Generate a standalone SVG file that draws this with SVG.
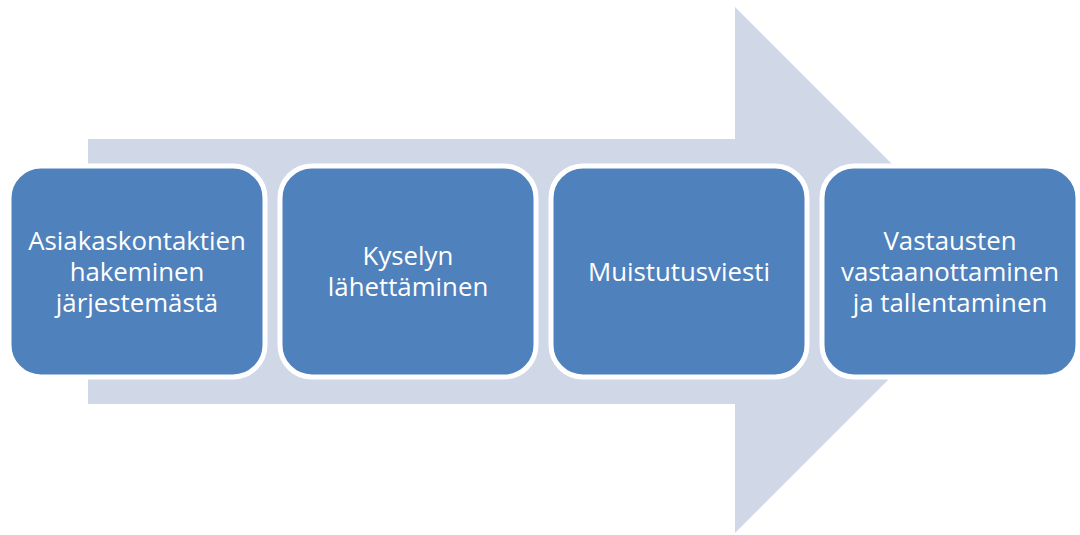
<svg xmlns="http://www.w3.org/2000/svg" width="1080" height="535" viewBox="0 0 1080 535">
  <style>
    .step rect { fill: #4F81BD; stroke: #FFFFFF; stroke-width: 5; }
    .step text { fill: #FFFFFF; font-family: "Open Sans", "Liberation Sans", sans-serif; font-size: 25.8px; text-anchor: middle; }
  </style>
  <!-- background process arrow -->
  <g id="arrow">
    <polygon points="88,139 735,139 735,7 998,270 735,533 735,404 88,404" fill="#D0D8E8"/>
  </g>
  <g id="step1" class="step">
    <rect x="9" y="166" width="256" height="211" rx="32"/>
    <text x="137" y="250">Asiakaskontaktien</text>
    <text x="137" y="281">hakeminen</text>
    <text x="137" y="312">järjestemästä</text>
  </g>
  <g id="step2" class="step">
    <rect x="280" y="166" width="256" height="211" rx="32"/>
    <text x="408" y="265">Kyselyn</text>
    <text x="408" y="296">lähettäminen</text>
  </g>
  <g id="step3" class="step">
    <rect x="551" y="166" width="256" height="211" rx="32"/>
    <text x="679" y="281">Muistutusviesti</text>
  </g>
  <g id="step4" class="step">
    <rect x="822" y="166" width="256" height="211" rx="32"/>
    <text x="950" y="250">Vastausten</text>
    <text x="950" y="281">vastaanottaminen</text>
    <text x="950" y="312">ja tallentaminen</text>
  </g>
</svg>
